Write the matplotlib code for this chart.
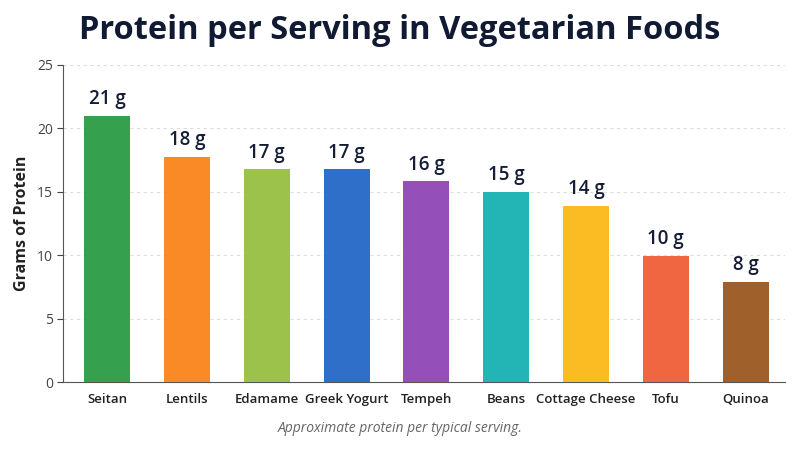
import matplotlib
matplotlib.use("Agg")
import matplotlib.pyplot as plt

# データ
foods = ["Seitan", "Lentils", "Edamame", "Greek Yogurt", "Tempeh",
         "Beans", "Cottage Cheese", "Tofu", "Quinoa"]
protein = [21.0, 17.75, 16.8, 16.8, 15.85, 15.0, 13.9, 9.95, 7.9]
value_labels = ["21 g", "18 g", "17 g", "17 g", "16 g", "15 g", "14 g", "10 g", "8 g"]
colors = ["#35a04e", "#fa8a26", "#9cc24b", "#2f6fca", "#9450b8",
          "#23b4b6", "#fbbb23", "#f06641", "#a0602b"]
y_ticks = [0, 5, 10, 15, 20, 25]

plt.rcParams["font.family"] = ["Open Sans", "DejaVu Sans"]

fig = plt.figure(figsize=(8, 4.5), dpi=100)
ax = fig.add_axes([0.079, 0.151, 0.902, 0.705])

x = range(len(foods))
ax.bar(x, protein, width=0.575, color=colors, zorder=3)

# 値ラベル
for i, (v, lab) in enumerate(zip(protein, value_labels)):
    ax.text(i, v + 0.5, lab, ha="center", va="bottom", fontsize=13.5,
            fontweight="semibold", color="#141c36")

ax.set_ylim(0, 25)
ax.set_xlim(-0.55, 8.49)
ax.set_yticks(y_ticks)
ax.set_xticks(list(x))
ax.set_xticklabels(foods, fontsize=9.5, fontweight="semibold", color="#222222")
ax.tick_params(axis="y", labelsize=10, colors="#444444", length=4)
ax.tick_params(axis="x", length=0, pad=8)
ax.grid(axis="y", linestyle=(0, (3, 3)), color="#dddddd", linewidth=0.8, zorder=0)

for s in ["top", "right"]:
    ax.spines[s].set_visible(False)
ax.spines["left"].set_color("#555555")
ax.spines["bottom"].set_color("#555555")

ax.set_ylabel("Grams of Protein", fontsize=11.5, fontweight="bold", color="#222222", labelpad=5)

fig.text(0.5, 0.932, "Protein per Serving in Vegetarian Foods", ha="center", va="center",
         fontsize=23.5, fontweight="bold", color="#111a33")
fig.text(0.5, 0.048, "Approximate protein per typical serving.", ha="center", va="center",
         fontsize=10, style="italic", color="#666666")

fig.savefig("out.png", dpi=100)
